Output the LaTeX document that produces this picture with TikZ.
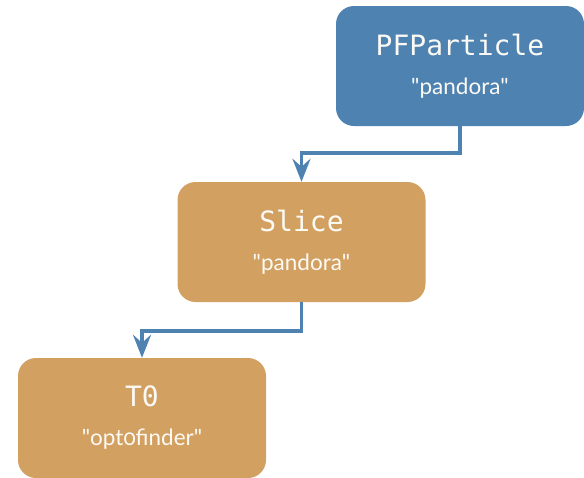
\documentclass[tikz,border=0pt]{standalone}
\usepackage{fontspec}
\usepackage{xcolor}
\usepackage{tikz}
\usetikzlibrary{arrows.meta, positioning, calc}
\setmonofont{DejaVu Sans Mono}
\setsansfont{Lato}[Numbers=OldStyle]
\definecolor{productblue}{HTML}{4E82B1}
\definecolor{productorange}{HTML}{D2A061}
\definecolor{labeltext}{HTML}{FCFAF5}
\tikzstyle{product} = [rectangle, rounded corners=18pt, minimum width=248pt, minimum height=120pt, inner sep=0pt, align=center, text=labeltext]
\tikzstyle{arrow} = [line width=3.8pt, -{Stealth[length=23pt, width=18pt, inset=8pt]}, color=productblue]
\newcommand{\prodname}[1]{{\fontsize{28}{30}\selectfont\ttfamily #1}}
\newcommand{\prodlabel}[1]{{\fontsize{22.5}{38}\selectfont\sffamily\textquotedbl #1\textquotedbl}}

\begin{document}
\begin{tikzpicture}[x=1pt, y=-1pt]
    \useasboundingbox (0,0) rectangle (584,477);
    % data product chain
    \node[product, fill=productblue] (pfp) at (460,66) {\prodname{PFParticle}\\[21pt]\prodlabel{pandora}};
    \node[product, fill=productorange] (slice) at (301.5,242) {\prodname{Slice}\\[21pt]\prodlabel{pandora}};
    \node[product, fill=productorange] (tzero) at (142,418) {\prodname{T0}\\[21pt]\prodlabel{opt0finder}};

    \draw[arrow] (pfp.south) -- ++(0,27) -| (slice.north);
    \draw[arrow] (slice.south) -- ++(0,29) -| (tzero.north);
\end{tikzpicture}
\end{document}
